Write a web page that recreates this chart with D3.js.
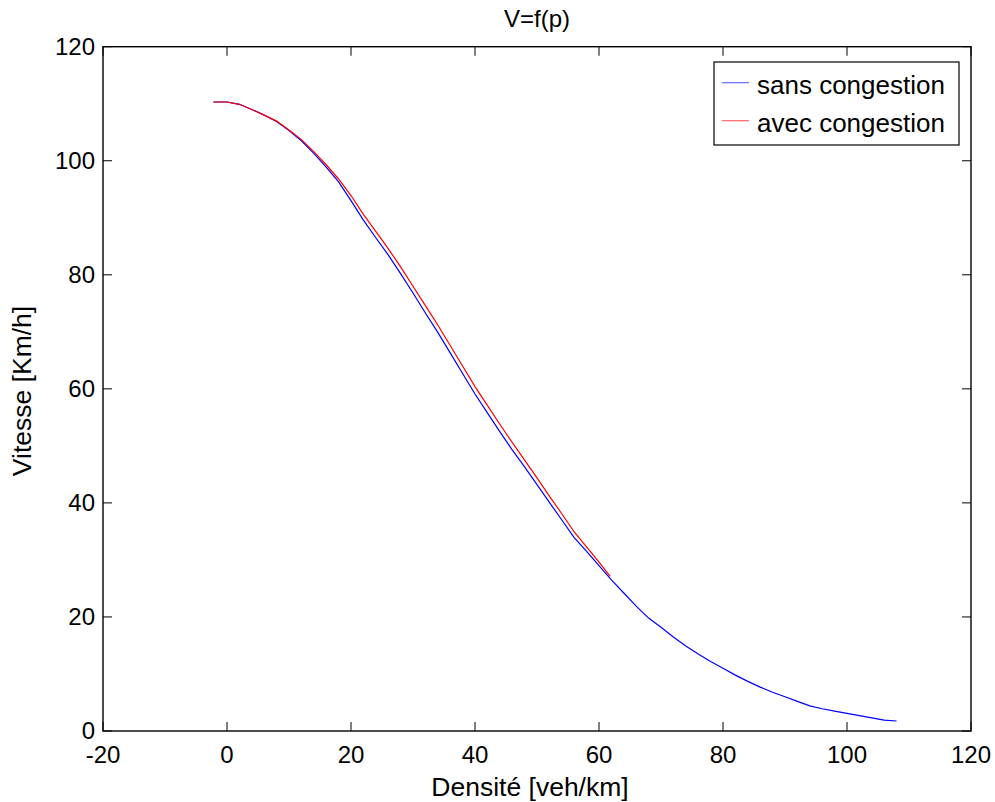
<!DOCTYPE html>
<html>
<head>
<meta charset="utf-8">
<script src="https://cdn.jsdelivr.net/npm/d3@7"></script>
<style>
  body { margin: 0; background: #fff; }
  svg { display: block; font-family: "Liberation Sans", Arial, sans-serif; }
</style>
</head>
<body>
<div id="chart"></div>
<script>
// density values (veh/km)
const densite = [-2.2, 0, 2, 4, 6, 8, 10, 12, 14, 16, 18, 20, 22, 24, 26, 28, 30, 32, 34, 36, 38, 40,
  42, 44, 46, 48, 50, 52, 54, 56, 58, 60, 62, 64, 66, 68, 70, 72, 74, 76, 78, 80, 82, 84, 86, 88,
  90, 92, 94, 96, 98, 100, 102, 104, 106, 108];
// speed without congestion (Km/h)
const sansCongestion = [110.3, 110.3, 109.9, 109.0, 108.0, 106.9, 105.3, 103.5, 101.3, 98.9, 96.3, 93.0,
  89.6, 86.5, 83.5, 80.2, 76.8, 73.3, 69.9, 66.3, 62.7, 59.1, 55.8, 52.5, 49.3, 46.3, 43.2, 40.1, 37.0,
  33.9, 31.5, 29.0, 26.5, 24.2, 21.9, 19.8, 18.2, 16.5, 14.9, 13.5, 12.2, 11.0, 9.8, 8.7, 7.7, 6.8,
  6.0, 5.2, 4.4, 3.9, 3.5, 3.1, 2.7, 2.3, 1.9, 1.75];
// speed with congestion, stops at ~62 veh/km
const densiteCong = [-2.2, 0, 2, 4, 6, 8, 10, 12, 14, 16, 18, 20, 22, 24, 26, 28, 30, 32, 34, 36, 38, 40,
  42, 44, 46, 48, 50, 52, 54, 56, 58, 60, 61.8];
const avecCongestion = [110.3, 110.3, 109.9, 109.0, 108.0, 106.95, 105.4, 103.7, 101.6, 99.3, 96.8, 93.9,
  90.6, 87.6, 84.6, 81.4, 78.0, 74.6, 71.2, 67.6, 64.0, 60.4, 57.1, 53.8, 50.6, 47.5, 44.4, 41.2, 38.1,
  34.9, 32.3, 29.6, 27.1];

const xTicks = [-20, 0, 20, 40, 60, 80, 100, 120];
const yTicks = [0, 20, 40, 60, 80, 100, 120];
const seriesNames = ["sans congestion", "avec congestion"];
const seriesColors = ["#0000ff", "#ff0000"];

const W = 995, H = 802;
const pLeft = 103, pRight = 971, pTop = 46.7, pBottom = 731;
const fs = 24;

const svg = d3.select("#chart").append("svg")
  .attr("width", W).attr("height", H);

const x = d3.scaleLinear().domain([-20, 120]).range([pLeft, pRight]);
const y = d3.scaleLinear().domain([0, 120]).range([pBottom, pTop]);

// plot frame
svg.append("rect")
  .attr("x", pLeft).attr("y", pTop)
  .attr("width", pRight - pLeft).attr("height", pBottom - pTop)
  .attr("fill", "none").attr("stroke", "#000").attr("stroke-width", 1.4);

// inward ticks on all four sides (MATLAB style)
const tl = 9;
const ticks = svg.append("g").attr("stroke", "#000").attr("stroke-width", 1);
xTicks.forEach(t => {
  ticks.append("line").attr("x1", x(t)).attr("x2", x(t)).attr("y1", pBottom).attr("y2", pBottom - tl);
  ticks.append("line").attr("x1", x(t)).attr("x2", x(t)).attr("y1", pTop).attr("y2", pTop + tl);
});
yTicks.forEach(t => {
  ticks.append("line").attr("x1", pLeft).attr("x2", pLeft + tl).attr("y1", y(t)).attr("y2", y(t));
  ticks.append("line").attr("x1", pRight).attr("x2", pRight - tl).attr("y1", y(t)).attr("y2", y(t));
});

// tick labels
svg.append("g").selectAll("text").data(xTicks).join("text")
  .attr("x", d => x(d)).attr("y", pBottom + 32)
  .attr("text-anchor", "middle").attr("font-size", fs)
  .text(d => d);
svg.append("g").selectAll("text").data(yTicks).join("text")
  .attr("x", pLeft - 8).attr("y", d => y(d)).attr("dy", "0.35em")
  .attr("text-anchor", "end").attr("font-size", fs)
  .text(d => d);

// title and axis labels
svg.append("text").attr("x", (pLeft + pRight) / 2).attr("y", 27)
  .attr("text-anchor", "middle").attr("font-size", fs).text("V=f(p)");
svg.append("text").attr("x", 530).attr("y", 796)
  .attr("text-anchor", "middle").attr("font-size", 26.5).text("Densité [veh/km]");
svg.append("text")
  .attr("transform", `translate(31,391) rotate(-90)`)
  .attr("text-anchor", "middle").attr("font-size", 26.5).text("Vitesse [Km/h]");

// curves
const line = d3.line().x(d => x(d[0])).y(d => y(d[1]));
svg.append("path")
  .datum(densite.map((d, i) => [d, sansCongestion[i]]))
  .attr("d", line).attr("fill", "none")
  .attr("stroke", seriesColors[0]).attr("stroke-width", 1.2);
svg.append("path")
  .datum(densiteCong.map((d, i) => [d, avecCongestion[i]]))
  .attr("d", line).attr("fill", "none")
  .attr("stroke", seriesColors[1]).attr("stroke-width", 1.2);

// legend
const lg = svg.append("g");
lg.append("rect").attr("x", 714).attr("y", 62).attr("width", 245).attr("height", 83)
  .attr("fill", "#fff").attr("stroke", "#000").attr("stroke-width", 1.2);
seriesNames.forEach((name, i) => {
  const cy = 82.7 + i * 38;
  lg.append("line").attr("x1", 722).attr("x2", 749).attr("y1", cy).attr("y2", cy)
    .attr("stroke", seriesColors[i]).attr("stroke-width", 1.2).attr("opacity", 0.6);
  lg.append("text").attr("x", 757).attr("y", cy + 11)
    .attr("font-size", 26).text(name);
});
</script>
</body>
</html>
